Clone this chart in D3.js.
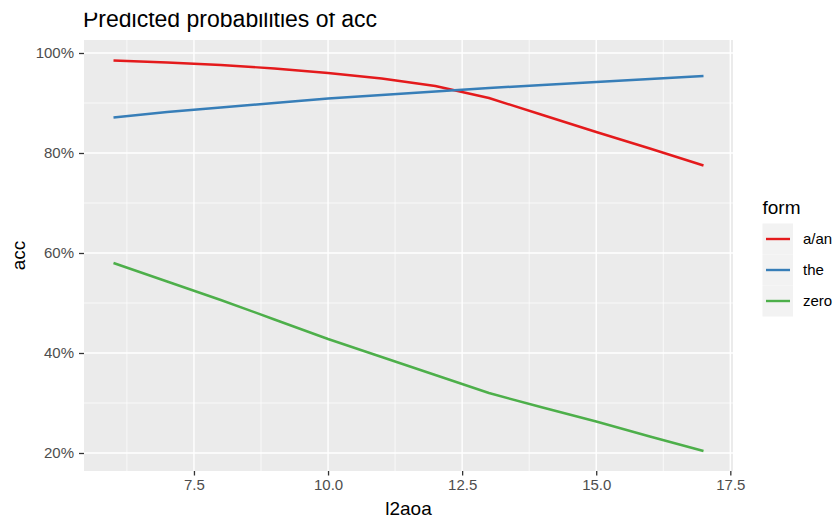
<!DOCTYPE html>
<html>
<head>
<meta charset="utf-8">
<script src="https://cdn.jsdelivr.net/npm/d3@7"></script>
<style>
  html, body { margin: 0; padding: 0; background: #ffffff; }
  svg { display: block; font-family: "Liberation Sans", Arial, sans-serif; }
</style>
</head>
<body>
<div id="chart"></div>
<script>
// ---- data ----
const l2aoa = [6, 7, 8, 9, 10, 11, 12, 13, 14, 15, 16, 17];
const formLevels = ["a/an", "the", "zero"];
const accAan  = [0.985, 0.981, 0.976, 0.969, 0.960, 0.949, 0.934, 0.910, 0.876, 0.842, 0.809, 0.775];
const accThe  = [0.871, 0.882, 0.891, 0.900, 0.909, 0.916, 0.923, 0.930, 0.936, 0.942, 0.948, 0.954];
const accZero = [0.580, 0.543, 0.506, 0.467, 0.428, 0.392, 0.356, 0.320, 0.291, 0.263, 0.233, 0.204];
const xTicks = [7.5, 10.0, 12.5, 15.0, 17.5];
const xMinor = [6.25, 8.75, 11.25, 13.75, 16.25];
const yTicks = [0.2, 0.4, 0.6, 0.8, 1.0];
const yMinor = [0.3, 0.5, 0.7, 0.9];
const titleText = "Predicted probabilities of acc";
const xTitle = "l2aoa";
const yTitle = "acc";
const legendTitle = "form";
const colors = ["#E41A1C", "#377EB8", "#4DAF4A"];

const seriesValues = [accAan, accThe, accZero];
const series = formLevels.map((f, i) => ({
  name: f, color: colors[i],
  values: l2aoa.map((x, j) => ({ x: x, y: seriesValues[i][j] }))
}));

// ---- layout ----
const W = 836, H = 521;
const panel = { left: 84, right: 733, top: 40, bottom: 471 };

const svg = d3.select("#chart").append("svg")
  .attr("width", W).attr("height", H);

const x = d3.scaleLinear().domain([5.45, 17.55]).range([panel.left, panel.right]);
const y = d3.scaleLinear().domain([0.164, 1.026]).range([panel.bottom, panel.top]);

// panel background
svg.append("rect")
  .attr("x", panel.left).attr("y", panel.top)
  .attr("width", panel.right - panel.left).attr("height", panel.bottom - panel.top)
  .attr("fill", "#EBEBEB");

const grid = svg.append("g");
// minor grid
grid.selectAll(".xminor").data(xMinor).enter().append("line")
  .attr("x1", d => x(d)).attr("x2", d => x(d))
  .attr("y1", panel.top).attr("y2", panel.bottom)
  .attr("stroke", "#ffffff").attr("stroke-width", 0.7);
grid.selectAll(".yminor").data(yMinor).enter().append("line")
  .attr("x1", panel.left).attr("x2", panel.right)
  .attr("y1", d => y(d)).attr("y2", d => y(d))
  .attr("stroke", "#ffffff").attr("stroke-width", 0.7);
// major grid
grid.selectAll(".xmajor").data(xTicks).enter().append("line")
  .attr("x1", d => x(d)).attr("x2", d => x(d))
  .attr("y1", panel.top).attr("y2", panel.bottom)
  .attr("stroke", "#ffffff").attr("stroke-width", 1.4);
grid.selectAll(".ymajor").data(yTicks).enter().append("line")
  .attr("x1", panel.left).attr("x2", panel.right)
  .attr("y1", d => y(d)).attr("y2", d => y(d))
  .attr("stroke", "#ffffff").attr("stroke-width", 1.4);

// lines
const line = d3.line().x(d => x(d.x)).y(d => y(d.y));
svg.append("g").selectAll("path").data(series).enter().append("path")
  .attr("d", d => line(d.values))
  .attr("fill", "none")
  .attr("stroke", d => d.color)
  .attr("stroke-width", 2.4)
  .attr("stroke-linejoin", "round");

// axes
const xAxis = svg.append("g")
  .attr("transform", `translate(0,${panel.bottom})`)
  .call(d3.axisBottom(x).tickValues(xTicks).tickFormat(d3.format(".1f")).tickSize(4.5).tickPadding(4));
const yAxis = svg.append("g")
  .attr("transform", `translate(${panel.left},0)`)
  .call(d3.axisLeft(y).tickValues(yTicks).tickFormat(d3.format(".0%")).tickSize(5).tickPadding(5));
[xAxis, yAxis].forEach(a => {
  a.select(".domain").remove();
  a.selectAll(".tick line").attr("stroke", "#333333").attr("stroke-width", 1.3);
  a.selectAll(".tick text").attr("fill", "#4D4D4D").attr("font-size", 15)
    .attr("font-family", "'Liberation Sans', Arial, sans-serif");
});
xAxis.selectAll(".tick text").attr("dy", "0.71em");

// axis titles
svg.append("text")
  .attr("x", (panel.left + panel.right) / 2).attr("y", 515)
  .attr("text-anchor", "middle").attr("font-size", 19).attr("fill", "#000")
  .text(xTitle);
svg.append("text")
  .attr("transform", `translate(25,${(panel.top + panel.bottom) / 2}) rotate(-90)`)
  .attr("text-anchor", "middle").attr("font-size", 19).attr("fill", "#000")
  .text(yTitle);

// title (top clipped like the reference)
svg.append("clipPath").attr("id", "titleclip")
  .append("rect").attr("x", 0).attr("y", 12.7).attr("width", W).attr("height", 30);
svg.append("text")
  .attr("clip-path", "url(#titleclip)")
  .attr("x", 83).attr("y", 26.5)
  .attr("font-size", 23).attr("fill", "#000")
  .text(titleText);

// legend
const lg = svg.append("g");
lg.append("text").attr("x", 762.5).attr("y", 214)
  .attr("font-size", 19).attr("fill", "#000").text(legendTitle);
const keyH = 31, keyW = 30.5, keyTop = 223.5, keyLeft = 762.5;
const items = lg.selectAll(".item").data(series).enter().append("g")
  .attr("transform", (d, i) => `translate(${keyLeft},${keyTop + i * keyH})`);
items.append("rect").attr("width", keyW).attr("height", keyH).attr("fill", "#F2F2F2");
items.append("line")
  .attr("x1", 3.5).attr("x2", keyW - 3).attr("y1", keyH / 2).attr("y2", keyH / 2)
  .attr("stroke", d => d.color).attr("stroke-width", 2.4);
items.append("text")
  .attr("x", keyW + 10).attr("y", keyH / 2).attr("dy", "0.35em")
  .attr("font-size", 15).attr("fill", "#000").text(d => d.name);
</script>
</body>
</html>
